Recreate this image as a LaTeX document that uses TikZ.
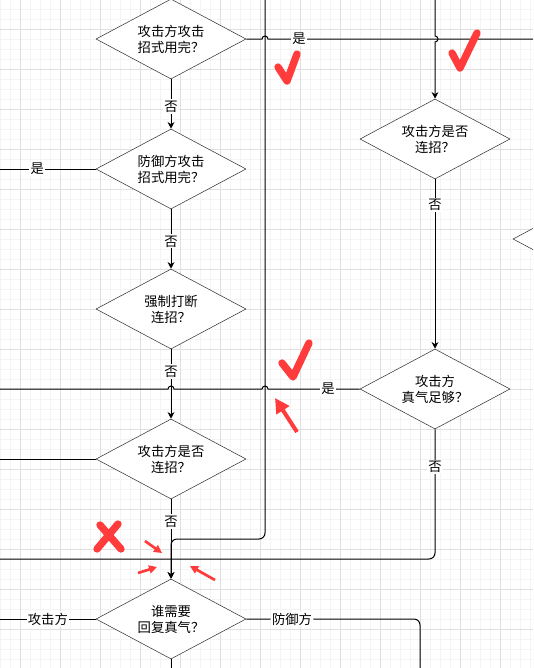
\documentclass[tikz,border=0pt]{standalone}
\usepackage{fontspec}
\newfontfamily\cjk{Noto Sans CJK SC}
\usetikzlibrary{shapes.geometric,arrows.meta}
\definecolor{gridmajor}{RGB}{224,224,224}
\definecolor{gridminor}{RGB}{244,244,244}
\definecolor{redmark}{RGB}{255,59,59}

\begin{document}
\begin{tikzpicture}[x=0.75pt,y=-0.75pt,
    every node/.style={font=\cjk\fontsize{10}{12}\selectfont},
    decision/.style={draw=black!80,fill=white,shape=diamond,aspect=1.875,
      minimum width=112.5pt,minimum height=60pt,inner sep=0pt,align=center},
    flow/.style={draw,line width=0.75pt},
    arr/.style={flow,-{Stealth[length=5pt,width=5pt]}},
    tag/.style={fill=white,inner sep=1pt},
    tick/.style={draw=redmark,line width=5.5pt,line cap=round,line join=round},
    pointer/.style={draw=redmark,line width=2pt,-{Triangle[length=6pt,width=6pt]}}]
      \clip (0,0) rectangle (533,668);
      \fill[white] (0,0) rectangle (533,668);

      \foreach \x in {0,10,...,530} \draw[gridminor] (\x,0) -- (\x,668);
      \foreach \y in {9,19,...,659} \draw[gridminor] (0,\y) -- (533,\y);
      \foreach \x in {20,60,...,500} \draw[gridmajor] (\x,0) -- (\x,668);
      \foreach \y in {29,69,...,669} \draw[gridmajor] (0,\y) -- (533,\y);

      \node[decision] (d1) at (171,39) {攻击方攻击\\招式用完？};
      \node[decision] (d2) at (171,169) {防御方攻击\\招式用完？};
      \node[decision] (d3) at (171,309) {强制打断\\连招？};
      \node[decision] (d4) at (171,459) {攻击方是否\\连招？};
      \node[decision] (d5) at (171,619) {谁需要\\回复真气？};
      \node[decision] (d6) at (435,139) {攻击方是否\\连招？};
      \node[decision] (d7) at (435,389) {攻击方\\真气足够？};
      \node[decision] (d8) at (588,239) {};

      \coordinate (inA) at (265,0);
      \coordinate (inB) at (435,0);
      \coordinate (outR) at (533,39);
      \coordinate (outL1) at (0,169);
      \coordinate (outL2) at (0,389);
      \coordinate (outL3) at (0,459);
      \coordinate (outL4) at (0,559);
      \coordinate (outL5) at (0,619);
      \coordinate (outB1) at (171,668);
      \coordinate (outB2) at (420,668);

      \draw[arr] (d1.south) -- node[tag,pos=0.55] {否} (d2.north);
      \draw[arr] (d2.south) -- node[tag,pos=0.54] {否} (d3.north);
      \draw[arr] (d3.south) -- node[tag,pos=0.32] {否} (d4.north);
      \draw[arr] (d4.south) -- node[tag,pos=0.28] {否} (d5.north);
      \draw[arr] (d6.south) -- node[tag,pos=0.15] {否} (d7.north);

      \draw[flow] (d1.east) -- (262,39) arc[start angle=180,end angle=360,radius=3]
        -- (299,39) node[tag] {是} -- (outR);
      \draw[arr] (inB) -- (435,36) arc[start angle=-90,end angle=90,radius=3] -- (d6.north);
      \draw[arr,rounded corners=4.5pt] (inA) |- (171,539) -- (d5.north);
      \draw[flow] (d2.west) -- node[tag,pos=0.61] {是} (outL1);
      \draw[flow] (d7.west) -- (328,389) node[tag] {是} -- (268,389)
        arc[start angle=0,end angle=-180,radius=3] -- (174,389)
        arc[start angle=0,end angle=-180,radius=3] -- (outL2);
      \draw[flow,rounded corners=4.5pt] (d7.south) -- node[tag,pos=0.29] {否} (435,559) -- (outL4);
      \draw[flow] (d4.west) -- (outL3);
      \draw[flow] (d5.west) -- node[tag] {攻击方} (outL5);
      \draw[flow,rounded corners=4.5pt] (d5.east) -- (292,619) node[tag] {防御方} -- (420,619) -- (outB2);
      \draw[flow] (d5.south) -- (outB1);

      \draw[tick] (278,67) -- (287,81) -- (297,54);
      \draw[tick] (452,53) -- (460,68) -- (477,33);
      \draw[tick] (282,363) -- (293,377) -- (309,343);
      \draw[tick] (100,525) -- (121,549) (118,524) -- (97,549);

      \draw[pointer,line width=3pt,-{Triangle[length=11pt,width=11pt]}] (297,432) -- (275,398);
      \draw[pointer] (145,541) -- (162,553);
      \draw[pointer] (138,573) -- (157,567);
      \draw[pointer] (215,580) -- (190,566);
    \end{tikzpicture}
\end{document}
